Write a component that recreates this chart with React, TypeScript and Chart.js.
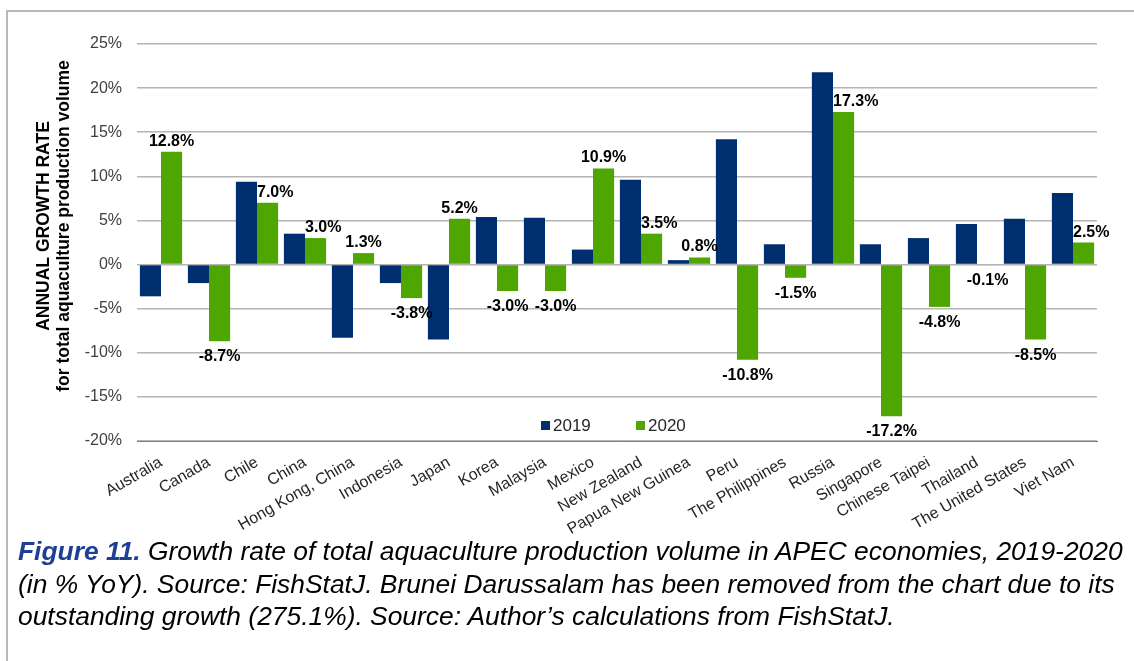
import React, { useEffect, useRef } from "react";
import { Chart, registerables } from "chart.js";

Chart.register(...registerables);

const categories = [
  "Australia", "Canada", "Chile", "China", "Hong Kong, China", "Indonesia", "Japan", "Korea",
  "Malaysia", "Mexico", "New Zealand", "Papua New Guinea", "Peru", "The Philippines", "Russia",
  "Singapore", "Chinese Taipei", "Thailand", "The United States", "Viet Nam",
];
const values2019 = [-3.6, -2.1, 9.4, 3.5, -8.3, -2.1, -8.5, 5.4, 5.3, 1.7, 9.6, 0.5, 14.2, 2.3, 21.8, 2.3, 3.0, 4.6, 5.2, 8.1];
const values2020 = [12.8, -8.7, 7.0, 3.0, 1.3, -3.8, 5.2, -3.0, -3.0, 10.9, 3.5, 0.8, -10.8, -1.5, 17.3, -17.2, -4.8, -0.1, -8.5, 2.5];
const seriesNames = ["2019", "2020"];
const yTitleLines = ["ANNUAL GROWTH RATE", "for total aquaculture production volume"];

const BLUE = "#002F6F";
const GREEN = "#4FA600";
const FONT = "'Liberation Sans', Arial, sans-serif";

const labelPlugin = {
  id: "valueLabels",
  afterDatasetsDraw(chart: any) {
    const ctx = chart.ctx;
    const meta = chart.getDatasetMeta(1);
    ctx.save();
    ctx.font = `bold 16px ${FONT}`;
    ctx.fillStyle = "#000";
    ctx.textBaseline = "alphabetic";
    meta.data.forEach((bar: any, i: number) => {
      const v = values2020[i];
      const b = values2019[i];
      const txt = v.toFixed(1) + "%";
      const left = bar.x - bar.width / 2;
      if (v >= 0) {
        if (b > v) {
          ctx.textAlign = "left";
          ctx.fillText(txt, left, bar.y - 6);
        } else {
          ctx.textAlign = "center";
          ctx.fillText(txt, bar.x, bar.y - 6);
        }
      } else {
        ctx.textAlign = "center";
        ctx.fillText(txt, bar.x, bar.y + 20);
      }
    });
    ctx.restore();
  },
};

const extrasPlugin = {
  id: "extras",
  afterDraw(chart: any) {
    const ctx = chart.ctx;
    ctx.save();
    // y axis title
    ctx.fillStyle = "#000";
    ctx.font = `bold 17.5px ${FONT}`;
    ctx.textAlign = "center";
    ctx.textBaseline = "middle";
    const xs = [44, 64];
    yTitleLines.forEach((line, i) => {
      ctx.save();
      ctx.translate(xs[i], 226);
      ctx.rotate(-Math.PI / 2);
      ctx.fillText(line, 0, 0);
      ctx.restore();
    });
    // legend
    ctx.font = `17px ${FONT}`;
    ctx.textAlign = "left";
    ctx.textBaseline = "middle";
    const items = [
      { x: 541, color: BLUE, name: seriesNames[0] },
      { x: 636, color: GREEN, name: seriesNames[1] },
    ];
    items.forEach((it) => {
      ctx.fillStyle = it.color;
      ctx.fillRect(it.x, 421, 9, 9);
      ctx.fillStyle = "#262626";
      ctx.fillText(it.name, it.x + 12, 426);
    });
    ctx.restore();
  },
};

function ChartBox() {
  const ref = useRef<HTMLCanvasElement | null>(null);
  useEffect(() => {
    if (!ref.current) return;
    const chart = new Chart(ref.current, {
      type: "bar",
      data: {
        labels: categories,
        datasets: [
          { label: seriesNames[0], data: values2019, backgroundColor: BLUE, categoryPercentage: 0.88, barPercentage: 1.0 },
          { label: seriesNames[1], data: values2020, backgroundColor: GREEN, categoryPercentage: 0.88, barPercentage: 1.0 },
        ],
      },
      options: {
        responsive: false,
        animation: false,
        layout: { padding: { top: 44, right: 37, left: 0, bottom: 0 } },
        plugins: { legend: { display: false }, tooltip: { enabled: false }, title: { display: false } },
        scales: {
          x: {
            grid: { display: false },
            border: { display: true, color: "#7f7f7f", width: 1 },
            ticks: {
              color: "#262626",
              font: { family: FONT, size: 16 },
              minRotation: 30,
              maxRotation: 30,
              autoSkip: false,
              padding: 4,
            },
            afterFit: (s: any) => { s.height = 119; },
          },
          y: {
            min: -20,
            max: 25,
            grid: { color: "#b4b4b4", lineWidth: 1.5, drawTicks: false },
            border: { display: false },
            ticks: {
              stepSize: 5,
              color: "#404040",
              font: { family: FONT, size: 16 },
              padding: 15,
              callback: (v: any) => v + "%",
            },
            afterFit: (s: any) => { s.width = 137; },
          },
        },
      },
      plugins: [labelPlugin, extrasPlugin],
    });
    return () => chart.destroy();
  }, []);
  return <canvas ref={ref} width={1134} height={560} style={{ display: "block" }} />;
}

export default function App() {
  return (
    <div style={{ position: "absolute", left: 0, top: 0, width: 1134, height: 661, overflow: "hidden", background: "#fff" }}>
      <div style={{ position: "absolute", left: 6, top: 10, width: 1300, height: 800, borderLeft: "2px solid #b9b9b9", borderTop: "2px solid #b9b9b9" }} />
      <div style={{ position: "absolute", left: 0, top: 0 }}>
        <ChartBox />
      </div>
      <div
        style={{
          position: "absolute",
          left: 18,
          top: 535,
          fontFamily: FONT,
          fontStyle: "italic",
          fontSize: 26.4,
          lineHeight: "32.5px",
          color: "#000",
          whiteSpace: "nowrap",
        }}
      >
        <span style={{ fontWeight: "bold", color: "#1F3F94" }}>Figure 11.</span> Growth rate of total aquaculture production volume in APEC economies, 2019-2020
        <br />
        (in % YoY). Source: FishStatJ. Brunei Darussalam has been removed from the chart due to its
        <br />
        outstanding growth (275.1%). Source: Author’s calculations from FishStatJ.
      </div>
    </div>
  );
}
